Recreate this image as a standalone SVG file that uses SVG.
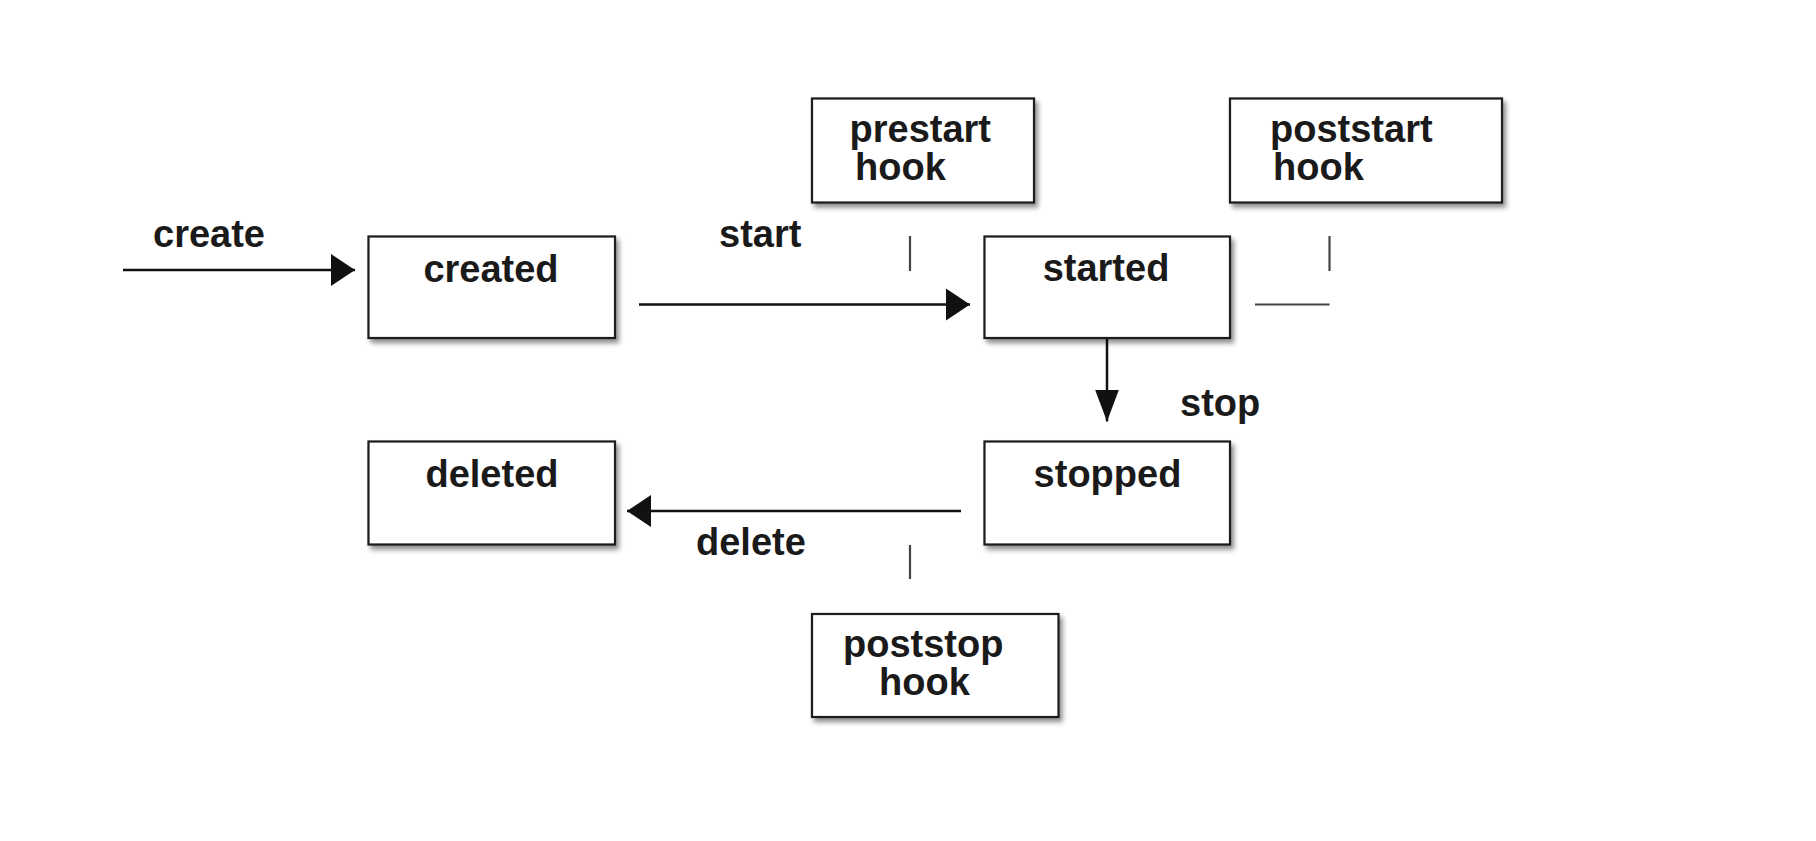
<svg xmlns="http://www.w3.org/2000/svg" width="1816" height="841" viewBox="0 0 1816 841">
<style>
.box{fill:#fff;stroke:#1a1a1a;stroke-width:2.2;filter:url(#sh)}
.t{font-family:"Liberation Sans",Arial,sans-serif;font-weight:bold;font-size:38px;fill:#1a1a1a}
.c{text-anchor:middle}
.ln{stroke:#111;stroke-width:2.5;fill:none}
.tick{stroke:#444;stroke-width:2.2;fill:none}
</style>
<defs>
<filter id="sh" x="-10%" y="-10%" width="125%" height="130%">
<feDropShadow dx="3" dy="4" stdDeviation="2.5" flood-color="#000" flood-opacity="0.45"/>
</filter>
<marker id="ah" markerUnits="userSpaceOnUse" markerWidth="24" markerHeight="32" refX="24" refY="16" orient="auto">
<path d="M0,0 L24,16 L0,32 z" fill="#111"/>
</marker>
<marker id="av" markerUnits="userSpaceOnUse" markerWidth="32" markerHeight="24" refX="32" refY="12" orient="auto">
<path d="M0,0 L32,12 L0,24 z" fill="#111"/>
</marker>
</defs>
<rect width="1816" height="841" fill="#fff"/>
<g id="connectors">
<line class="ln" x1="123" y1="270" x2="355" y2="270" marker-end="url(#ah)"/>
<line class="ln" x1="639" y1="304.5" x2="970" y2="304.5" marker-end="url(#ah)"/>
<line class="ln" x1="1107" y1="338" x2="1107" y2="421.5" marker-end="url(#av)"/>
<line class="ln" x1="961" y1="511" x2="627" y2="511" marker-end="url(#ah)"/>
<line class="tick" x1="910" y1="236" x2="910" y2="271"/>
<line class="tick" x1="1329.5" y1="236" x2="1329.5" y2="271"/>
<line class="tick" x1="1255" y1="304.5" x2="1329.5" y2="304.5"/>
<line class="tick" x1="910" y1="545" x2="910" y2="579"/>
<text class="t" x="153" y="246.5">create</text>
<text class="t" x="719" y="246.5">start</text>
<text class="t" x="1180" y="416">stop</text>
<text class="t" x="696" y="555">delete</text>
</g>
<g id="created">
<rect class="box" x="368.5" y="236.5" width="246.5" height="101.5"/>
<text class="t c" x="491" y="281.5">created</text>
</g>
<g id="prestart">
<rect class="box" x="812" y="98.5" width="222" height="104"/>
<text class="t"><tspan x="849.5" y="141.5">prestart</tspan><tspan x="855" y="180">hook</tspan></text>
</g>
<g id="started">
<rect class="box" x="984.5" y="236.5" width="245.5" height="101.5"/>
<text class="t c" x="1106" y="281">started</text>
</g>
<g id="poststart">
<rect class="box" x="1230" y="98.5" width="272" height="104"/>
<text class="t"><tspan x="1270" y="141.5">poststart</tspan><tspan x="1273" y="180">hook</tspan></text>
</g>
<g id="deleted">
<rect class="box" x="368.5" y="441.5" width="246.5" height="103"/>
<text class="t c" x="492" y="486.5">deleted</text>
</g>
<g id="stopped">
<rect class="box" x="984.5" y="441.5" width="245.5" height="103"/>
<text class="t c" x="1107.5" y="486.5">stopped</text>
</g>
<g id="poststop">
<rect class="box" x="812" y="614" width="246.5" height="103"/>
<text class="t"><tspan x="843" y="656.5">poststop</tspan><tspan x="879" y="694.5">hook</tspan></text>
</g>
</svg>
